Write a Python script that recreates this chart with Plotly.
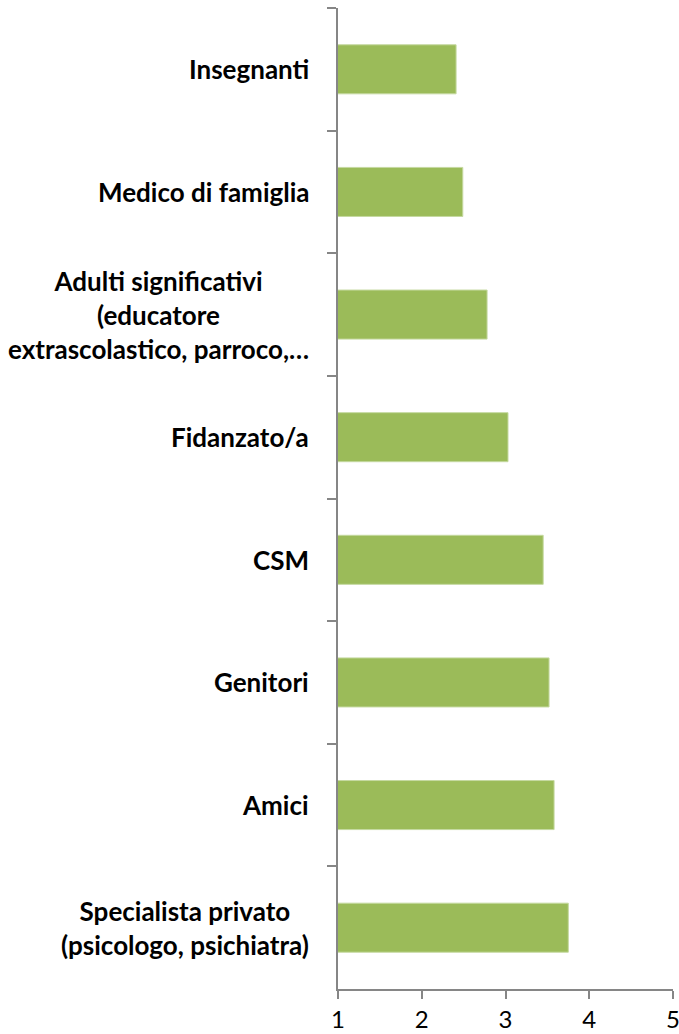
import plotly.graph_objects as go

categories = [
    "Insegnanti",
    "Medico di famiglia",
    "Adulti significativi<br>(educatore<br>extrascolastico, parroco,…",
    "Fidanzato/a",
    "CSM",
    "Genitori",
    "Amici",
    "Specialista privato<br>(psicologo, psichiatra)",
]
values = [2.41, 2.49, 2.78, 3.03, 3.45, 3.52, 3.58, 3.75]
x_ticks = [1, 2, 3, 4, 5]

BAR = "#9BBB59"
AXIS = "#868686"
FONT = "Lato, Carlito, Calibri, sans-serif"

fig = go.Figure()
fig.add_trace(go.Bar(
    y=categories, x=values, orientation="h",
    marker=dict(color=BAR, line=dict(color="#c5d9a0", width=1)),
    width=0.4,
))

for c in categories:
    fig.add_annotation(
        x=1, y=c, xref="x", yref="y", text="<b>" + c + "</b>",
        showarrow=False, xanchor="right", yanchor="middle", align="center",
        xshift=-27, font=dict(family=FONT, size=26, color="black"),
    )

fig.update_layout(
    width=679, height=1034,
    margin=dict(l=338, r=6, t=8, b=45, autoexpand=False),
    paper_bgcolor="white", plot_bgcolor="white",
    showlegend=False,
    bargap=0.6,
    xaxis=dict(
        range=[1, 5], tickvals=x_ticks, showgrid=False, zeroline=False,
        showline=True, linecolor=AXIS, linewidth=2,
        ticks="outside", ticklen=8, tickwidth=2, tickcolor=AXIS,
        tickfont=dict(family=FONT, size=24, color="black"),
        automargin=False, ticklabeloverflow="allow",
    ),
    yaxis=dict(
        autorange="reversed", showticklabels=False, showgrid=False,
        showline=True, linecolor=AXIS, linewidth=2,
        ticks="outside", ticklen=9, tickwidth=2, tickcolor=AXIS,
        tickson="boundaries", zeroline=False, automargin=False,
    ),
)

fig.write_html(
    "out.html",
    config={"displayModeBar": False},
    post_script="document.body.style.margin='0';document.body.style.overflow='hidden';",
)
